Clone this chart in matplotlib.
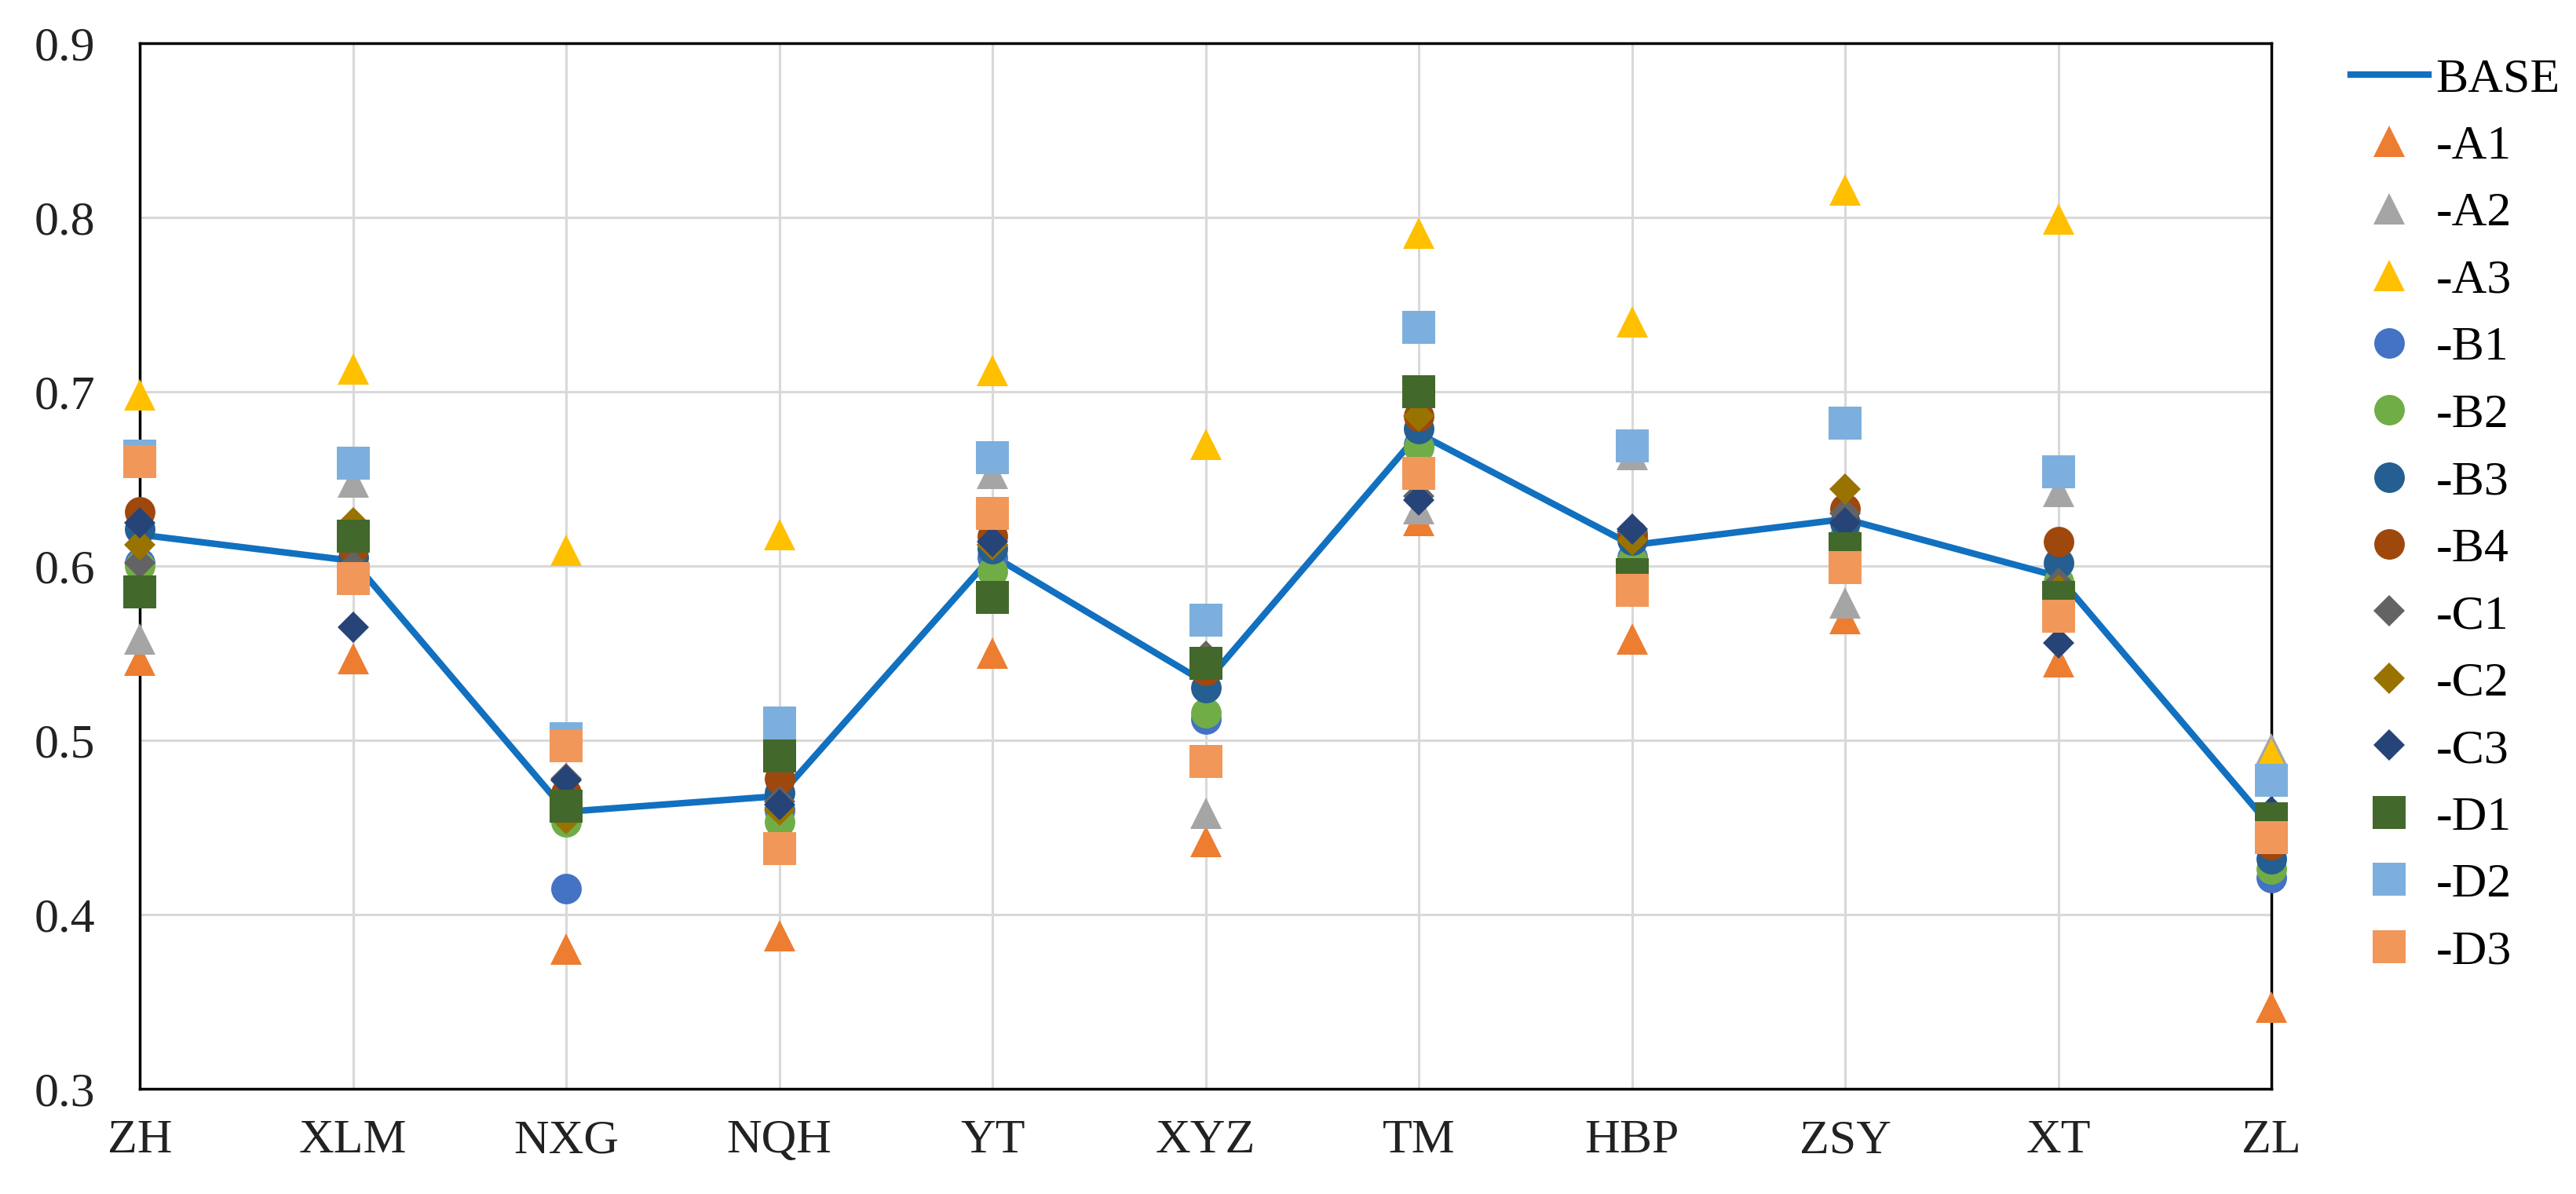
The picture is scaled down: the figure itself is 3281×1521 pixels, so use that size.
import matplotlib
matplotlib.use('Agg')
import matplotlib.pyplot as plt

plt.rcParams['font.family'] = ['Liberation Serif', 'DejaVu Serif']

# 数据
categories = ['ZH', 'XLM', 'NXG', 'NQH', 'YT', 'XYZ', 'TM', 'HBP', 'ZSY', 'XT', 'ZL']

base = [0.618, 0.603, 0.459, 0.468, 0.606, 0.533, 0.676, 0.612, 0.627, 0.594, 0.450]

a1 = [0.546, 0.547, 0.380, 0.388, 0.550, 0.442, 0.626, 0.558, 0.570, 0.545, 0.347]
a2 = [0.558, 0.648, 0.478, 0.470, 0.653, 0.458, 0.633, 0.664, 0.579, 0.643, 0.495]
a3 = [0.698, 0.713, 0.609, 0.618, 0.712, 0.670, 0.791, 0.740, 0.816, 0.799, 0.492]
b1 = [0.602, 0.595, 0.415, 0.460, 0.605, 0.512, 0.670, 0.605, 0.615, 0.588, 0.421]
b2 = [0.600, 0.598, 0.453, 0.453, 0.597, 0.516, 0.668, 0.603, 0.617, 0.591, 0.426]
b3 = [0.621, 0.605, 0.465, 0.470, 0.610, 0.530, 0.679, 0.615, 0.625, 0.602, 0.432]
b4 = [0.631, 0.610, 0.470, 0.478, 0.617, 0.540, 0.686, 0.618, 0.633, 0.614, 0.440]
c1 = [0.602, 0.600, 0.478, 0.465, 0.612, 0.548, 0.640, 0.620, 0.630, 0.590, 0.450]
c2 = [0.612, 0.625, 0.455, 0.460, 0.612, 0.546, 0.686, 0.615, 0.644, 0.586, 0.450]
c3 = [0.625, 0.565, 0.477, 0.463, 0.614, 0.545, 0.638, 0.621, 0.625, 0.556, 0.459]
d1 = [0.585, 0.617, 0.462, 0.491, 0.582, 0.544, 0.700, 0.595, 0.610, 0.582, 0.455]
d2 = [0.663, 0.659, 0.501, 0.510, 0.662, 0.569, 0.737, 0.669, 0.682, 0.654, 0.477]
d3 = [0.660, 0.593, 0.497, 0.438, 0.630, 0.488, 0.653, 0.586, 0.599, 0.571, 0.444]

series = [
    ('-A1', a1, '^', '#ED7D31'),
    ('-A2', a2, '^', '#A5A5A5'),
    ('-A3', a3, '^', '#FFC000'),
    ('-B1', b1, 'o', '#4472C4'),
    ('-B2', b2, 'o', '#70AD47'),
    ('-B3', b3, 'o', '#255E91'),
    ('-B4', b4, 'o', '#9E480E'),
    ('-C1', c1, 'D', '#636363'),
    ('-C2', c2, 'D', '#997300'),
    ('-C3', c3, 'D', '#264478'),
    ('-D1', d1, 's', '#43682B'),
    ('-D2', d2, 's', '#7CAFDD'),
    ('-D3', d3, 's', '#F1975A'),
]
msize = {'^': 29, 'o': 28, 'D': 20, 's': 30}

fig = plt.figure(figsize=(32.81, 15.21), dpi=100)
ax = fig.add_axes([0.0543, 0.0881, 0.8275, 0.8757])

x = list(range(len(categories)))
ax.plot(x, base, color='#1170BF', lw=6, label='BASE', zorder=3, clip_on=False)
for name, vals, mk, col in series:
    ax.plot(x, vals, linestyle='none', marker=mk, ms=msize[mk], color=col,
            mec=col, mew=0, label=name, zorder=4, clip_on=False)

ax.set_xlim(0, 10)
ax.set_ylim(0.3, 0.9)
ax.set_xticks(x)
ax.set_xticklabels(categories)
ax.set_yticks([0.3, 0.4, 0.5, 0.6, 0.7, 0.8, 0.9])
ax.set_yticklabels(['0.3', '0.4', '0.5', '0.6', '0.7', '0.8', '0.9'])
ax.tick_params(axis='both', length=0, labelsize=44.6, colors='#222222')
ax.tick_params(axis='x', pad=28)
ax.tick_params(axis='y', pad=41)
ax.grid(True, color='#D9D9D9', lw=2.2, zorder=0)
ax.set_axisbelow(True)
for sp in ax.spines.values():
    sp.set_color('black')
    sp.set_linewidth(2.5)
    sp.set_zorder(2.5)

leg = fig.legend(loc='upper left', bbox_to_anchor=(0.9125, 0.952), frameon=False,
                 fontsize=44.6, handlelength=1.6, handletextpad=0.15,
                 labelspacing=0.47, borderpad=0, borderaxespad=0)

fig.savefig('out.png', dpi=100)
